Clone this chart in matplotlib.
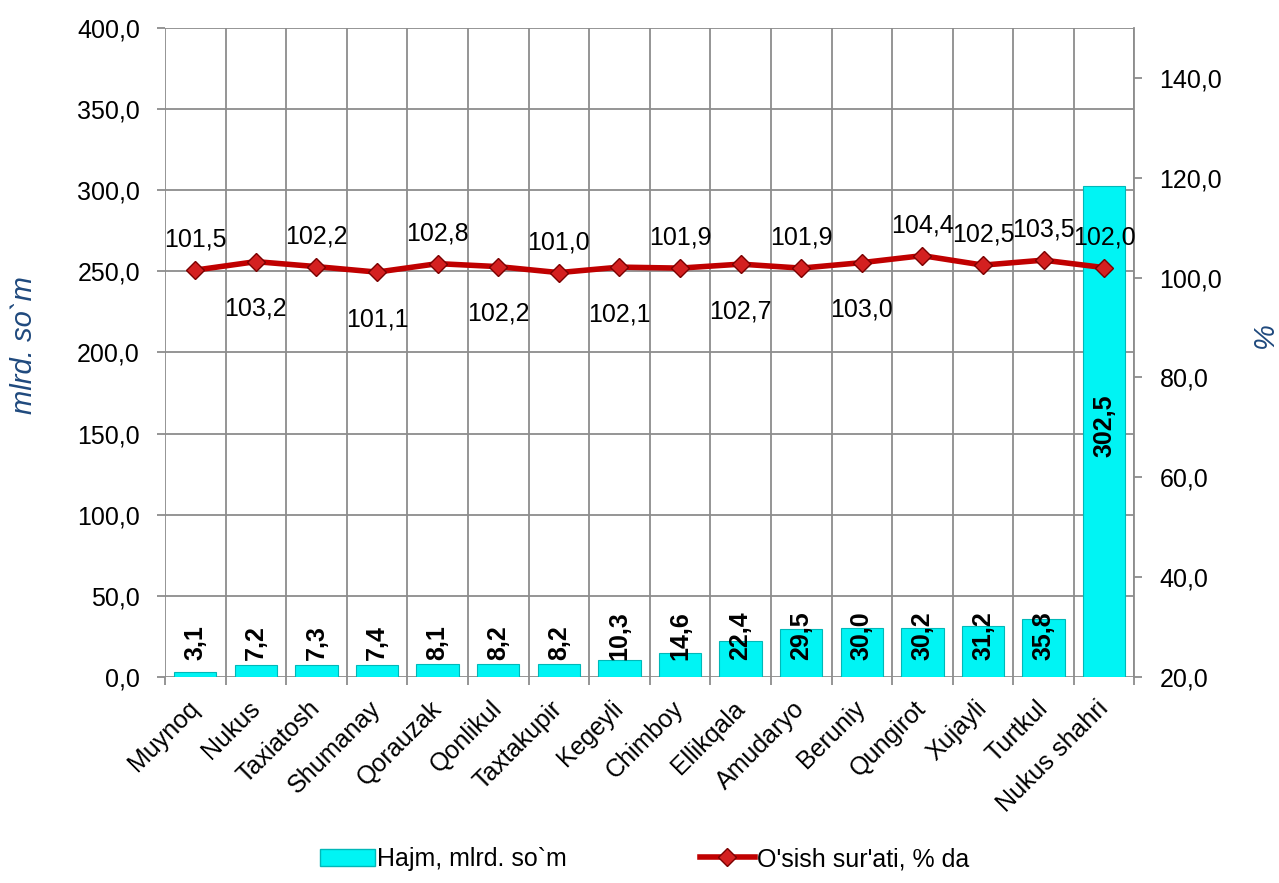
import matplotlib
matplotlib.use("Agg")
import matplotlib.pyplot as plt
from matplotlib.ticker import FuncFormatter, MultipleLocator
from matplotlib.patches import Patch
from matplotlib.lines import Line2D

plt.rcParams['font.family'] = ['Liberation Sans', 'DejaVu Sans']

# data
districts = ['Muynoq', 'Nukus', 'Taxiatosh', 'Shumanay', 'Qorauzak', 'Qonlikul',
             'Taxtakupir', 'Kegeyli', 'Chimboy', 'Ellikqala', 'Amudaryo', 'Beruniy',
             'Qungirot', 'Xujayli', 'Turtkul', 'Nukus shahri']
volume = [3.1, 7.2, 7.3, 7.4, 8.1, 8.2, 8.2, 10.3, 14.6, 22.4, 29.5, 30.0,
          30.2, 31.2, 35.8, 302.5]
growth = [101.5, 103.2, 102.2, 101.1, 102.8, 102.2, 101.0, 102.1, 101.9, 102.7,
          101.9, 103.0, 104.4, 102.5, 103.5, 102.0]
# label above (True) or below (False) the line point
label_above = [True, False, True, False, True, False, True, False, True, False,
               True, False, True, True, True, True]

BAR_COLOR = '#00F4F4'
BAR_EDGE = '#00B8B8'
LINE_COLOR = '#C00000'
AXIS_LABEL_COLOR = '#1F497D'
GRID = '#8C8C8C'


def fmt(v):
    return f"{v:.1f}".replace('.', ',')


comma = FuncFormatter(lambda v, p: fmt(v))

fig = plt.figure(figsize=(12.79, 8.83), dpi=100)
ax = fig.add_axes([0.129, 0.2333, 0.758, 0.735])
ax2 = ax.twinx()

x = list(range(len(districts)))
ax.bar(x, volume, width=0.7, color=BAR_COLOR, edgecolor=BAR_EDGE, linewidth=0.8, zorder=2)

ax.set_xlim(-0.5, len(districts) - 0.5)
ax.set_ylim(0, 400)
ax.yaxis.set_major_locator(MultipleLocator(50))
ax.yaxis.set_major_formatter(comma)
ax.set_xticks(x)
ax.set_xticklabels(districts, rotation=45, ha='right', va='center',
                   rotation_mode='anchor', fontsize=18)
ax.set_xticks([i + 0.5 for i in range(-1, len(districts))], minor=True)
ax.grid(True, axis='y', color=GRID, linewidth=1.3, zorder=0)
ax.grid(True, axis='x', which='minor', color=GRID, linewidth=1.3, zorder=0)
ax.tick_params(axis='x', which='major', length=0, pad=20)
ax.tick_params(axis='x', which='minor', length=6, color=GRID, width=1.3, direction='out')
ax.tick_params(axis='y', labelsize=18, length=6, color=GRID, width=1.3, pad=12)
ax.set_axisbelow(True)
for s in ['top', 'right', 'left', 'bottom']:
    ax.spines[s].set_visible(False)

# axis titles placed as figure text
fig.text(24 / 1279, 1 - 345 / 883, 'mlrd. so`m', rotation=90, ha='center', va='center',
         fontsize=21, style='italic', color=AXIS_LABEL_COLOR)
fig.text(1265 / 1279, 1 - 335 / 883, '%', rotation=90, ha='center', va='center',
         fontsize=21, style='italic', color=AXIS_LABEL_COLOR)

# bar labels
for i, v in enumerate(volume):
    if v > 100:
        ax.text(i, 155, fmt(v), rotation=90, ha='center', va='center',
                fontsize=18, fontweight='bold', zorder=5)
    else:
        ax.text(i, 10.5, fmt(v), rotation=90, ha='center', va='bottom',
                fontsize=18, fontweight='bold', zorder=5)

# growth line
ax2.plot(x, growth, color=LINE_COLOR, linewidth=4, marker='D', markersize=9,
         markerfacecolor='#D42020', markeredgecolor='#7A0000', markeredgewidth=1, zorder=4)
ax2.set_ylim(20, 150)
ax2.set_yticks(range(20, 141, 20))
ax2.yaxis.set_major_formatter(comma)
ax2.tick_params(axis='y', labelsize=18, length=6, color=GRID, width=1.3, pad=12)
for s in ['top', 'left', 'bottom']:
    ax2.spines[s].set_visible(False)
ax2.spines['right'].set_color(GRID)
ax2.spines['right'].set_linewidth(1.3)

for i, g in enumerate(growth):
    off = 22 if label_above[i] else -34
    ax2.annotate(fmt(g), (i, g), xytext=(0, off),
                 textcoords='offset points', ha='center', va='center', fontsize=18, zorder=6)

handles = [Patch(facecolor=BAR_COLOR, edgecolor=BAR_EDGE, label='Hajm, mlrd. so`m'),
           Line2D([0], [0], color=LINE_COLOR, linewidth=4, marker='D', markersize=9,
                  markerfacecolor='#D42020', markeredgecolor='#7A0000',
                  label="O'sish sur'ati, % da")]
fig.legend(handles=handles, loc='lower center', bbox_to_anchor=(0.504, -0.012), ncol=2,
           frameon=False, fontsize=18, columnspacing=5.3, handlelength=2.2, handletextpad=0.1)

fig.savefig('out.png', dpi=100)
